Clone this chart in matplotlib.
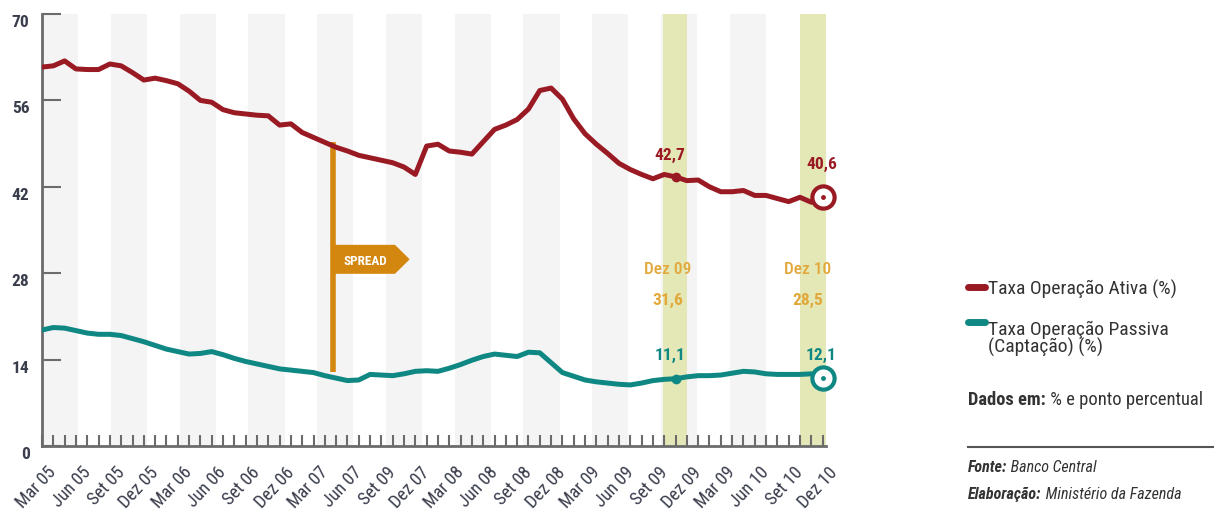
import matplotlib
matplotlib.use("Agg")
import matplotlib.pyplot as plt
from matplotlib import font_manager
from matplotlib.transforms import ScaledTranslation
from matplotlib.lines import Line2D
from matplotlib.patches import Polygon

# months Mar 05 .. Dez 10 (index 0..69)
ativa = [61.4, 61.6, 62.4, 61.1, 61.0, 61.0, 61.9, 61.6, 60.5, 59.3,
         59.6, 59.2, 58.7, 57.5, 56.0, 55.7, 54.5, 54.0, 53.8, 53.6,
         53.5, 52.0, 52.2, 50.8, 50.0, 49.2, 48.4, 47.8, 47.1, 46.7,
         46.3, 45.9, 45.2, 44.0, 48.6, 48.9, 47.8, 47.6, 47.3, 49.3,
         51.3, 52.0, 52.9, 54.6, 57.6, 58.0, 56.2, 53.0, 50.6, 48.9,
         47.4, 45.8, 44.8, 44.0, 43.3, 44.0, 43.6, 43.0, 43.1, 42.0,
         41.2, 41.2, 41.4, 40.6, 40.6, 40.1, 39.6, 40.3, 39.5, 40.3]
passiva = [18.8, 19.2, 19.1, 18.7, 18.3, 18.1, 18.1, 17.9, 17.4, 16.9,
           16.3, 15.7, 15.3, 14.9, 15.0, 15.3, 14.8, 14.2, 13.7, 13.3,
           12.9, 12.5, 12.3, 12.1, 11.9, 11.4, 11.0, 10.6, 10.7, 11.6,
           11.5, 11.4, 11.7, 12.1, 12.2, 12.1, 12.6, 13.2, 13.9, 14.5,
           14.9, 14.7, 14.5, 15.2, 15.1, 13.5, 11.9, 11.3, 10.7, 10.4,
           10.2, 10.0, 9.9, 10.2, 10.6, 10.8, 10.9, 11.2, 11.4, 11.4,
           11.5, 11.8, 12.1, 12.0, 11.7, 11.6, 11.6, 11.6, 11.7, 11.0]
xlabels = ['Mar 05', 'Jun 05', 'Set 05', 'Dez 05', 'Mar 06', 'Jun 06', 'Set 06', 'Dez 06',
           'Mar 07', 'Jun 07', 'Set 09', 'Dez 07', 'Mar 08', 'Jun 08', 'Set 08', 'Dez 08',
           'Mar 09', 'Jun 09', 'Set 09', 'Dez 09', 'Mar 09', 'Jun 10', 'Set 10', 'Dez 10']
yticks = [0, 14, 28, 42, 56, 70]
spread_labels = ['31,6', '28,5']
ativa_labels = ['42,7', '40,6']
passiva_labels = ['11,1', '12,1']
highlight_names = ['Dez 09', 'Dez 10']

RED = '#9a1a24'
TEAL = '#0f8884'
ORANGE = '#d3870f'
GOLD = '#e2a83a'
TXT = '#3a3d4c'
NOTE = '#333333'

names = {f.name for f in font_manager.fontManager.ttflist}
FONT = 'DejaVu Sans'
for cand in ['Liberation Sans Narrow', 'Roboto Condensed', 'Open Sans Condensed', 'DejaVu Sans']:
    if cand in names:
        FONT = cand
        break
plt.rcParams['font.family'] = [FONT, 'DejaVu Sans']

fig = plt.figure(figsize=(12.14, 5.10), dpi=100)
ax = fig.add_axes([0.0346, 0.1235, 0.6458, 0.8471])
x = list(range(len(ativa)))

# alternating grey bands, every 3 months
for k in range(11):
    ax.axvspan(k * 6.08, k * 6.08 + 3.2, color='#f4f4f4', lw=0, zorder=0)
# highlighted months
for a, b in [(54.9, 57.0), (67.0, 69.3)]:
    ax.axvspan(a, b, color='#e4e8b6', lw=0, zorder=0.5)

ax.plot(x, ativa, color=RED, lw=3.6, solid_capstyle='round', zorder=3)
ax.plot(x, passiva, color=TEAL, lw=3.6, solid_capstyle='round', zorder=3)

# Dez 09 dots
i9 = 56
ax.plot(i9, ativa[i9], 'o', color=RED, ms=6, zorder=4)
ax.plot(i9, passiva[i9], 'o', color=TEAL, ms=6, zorder=4)
# Dez 10 circles
i10 = len(ativa) - 1
for s, c in [(ativa, RED), (passiva, TEAL)]:
    ax.plot(i10, s[i10], 'o', ms=16, mfc='white', mec=c, mew=3, zorder=5, clip_on=False)
    ax.plot(i10, s[i10], 'o', ms=2.5, color=c, zorder=6, clip_on=False)

# value labels
ax.text(55.5, 47.3, ativa_labels[0], color=RED, fontsize=12.5, fontweight='bold', ha='center', va='center')
ax.text(68.9, 45.7, ativa_labels[1], color=RED, fontsize=12.5, fontweight='bold', ha='center', va='center')
ax.text(55.5, 14.9, passiva_labels[0], color=TEAL, fontsize=12.5, fontweight='bold', ha='center', va='center')
ax.text(68.9, 14.9, passiva_labels[1], color=TEAL, fontsize=12.5, fontweight='bold', ha='center', va='center')
for xc, name, val in [(55.3, highlight_names[0], spread_labels[0]), (67.7, highlight_names[1], spread_labels[1])]:
    ax.text(xc, 28.7, name, color=GOLD, fontsize=12.5, fontweight='medium', ha='center', va='center')
    ax.text(xc, 23.8, val, color=GOLD, fontsize=12.5, fontweight='bold', ha='center', va='center')

# spread flag
ax.plot([25.7, 25.7], [12.0, 49.3], color=ORANGE, lw=4, solid_capstyle='butt', zorder=2)
ax.add_patch(Polygon([(25.7, 27.9), (31.2, 27.9), (32.5, 30.25), (31.2, 32.6), (25.7, 32.6)],
                     closed=True, color=ORANGE, lw=0, zorder=2))
ax.text(28.6, 30.1, 'SPREAD', color='white', fontsize=9.5, fontweight='bold', ha='center', va='center', zorder=3)

ax.set_xlim(0, 69.3)
ax.set_ylim(0, 70)
for side in ['top', 'right']:
    ax.spines[side].set_visible(False)
for side in ['left', 'bottom']:
    ax.spines[side].set_color('#6b6b6b')
    ax.spines[side].set_linewidth(2)

ax.set_yticks(yticks)
ax.tick_params(axis='y', direction='in', length=14, width=1.5, color='#6b6b6b',
               labelsize=12.5, labelcolor=TXT, pad=9)
for lab in ax.get_yticklabels():
    lab.set_fontweight('bold')
    lab.set_transform(lab.get_transform() + ScaledTranslation(0, -0.06, fig.dpi_scale_trans))

ax.set_xticks(range(0, 70, 3))
ax.set_xticklabels(xlabels, rotation=47, ha='right', va='top', rotation_mode='anchor')
ax.set_xticks(range(1, 70), minor=True)
ax.tick_params(axis='x', which='both', direction='in', length=8, width=1.5, color='#6b6b6b')
ax.tick_params(axis='x', which='major', labelsize=13, labelcolor=TXT, pad=12)
for lab in ax.get_xticklabels():
    lab.set_transform(lab.get_transform() + ScaledTranslation(0.05, 0, fig.dpi_scale_trans))

# legend / notes on the right
X0 = 968 / 1214
fig.add_artist(Line2D([X0, 985 / 1214], [0.4353, 0.4353], color=RED, lw=5, solid_capstyle='round'))
fig.text(988 / 1214, 0.4333, 'Taxa Operação Ativa (%)', fontsize=14, color=NOTE, va='center')
fig.add_artist(Line2D([X0, 985 / 1214], [0.3667, 0.3667], color=TEAL, lw=5, solid_capstyle='round'))
fig.text(988 / 1214, 0.3353, 'Taxa Operação Passiva\n(Captação) (%)', fontsize=14, color=NOTE,
         va='center', linespacing=0.95)
fig.add_artist(Line2D([X0, 1.0], [1 - 448 / 510, 1 - 448 / 510], color='#555555', lw=1.5))

notes = [('Dados em:', ' % e ponto percentual', 1 - 400 / 510, 13.3, 'normal'),
         ('Fonte:', ' Banco Central', 1 - 468 / 510, 11.5, 'italic'),
         ('Elaboração:', ' Ministério da Fazenda', 1 - 495 / 510, 11.5, 'italic')]
r = fig.canvas.get_renderer()
for lead, rest, yy, fs, st in notes:
    t = fig.text(X0, yy, lead, fontsize=fs, color=NOTE, fontweight='bold', style=st, va='center')
    bb = t.get_window_extent(r)
    fig.text(bb.x1 / fig.bbox.width, yy, rest, fontsize=fs, color=NOTE, style=st, va='center')

fig.savefig('out.png', dpi=100)
